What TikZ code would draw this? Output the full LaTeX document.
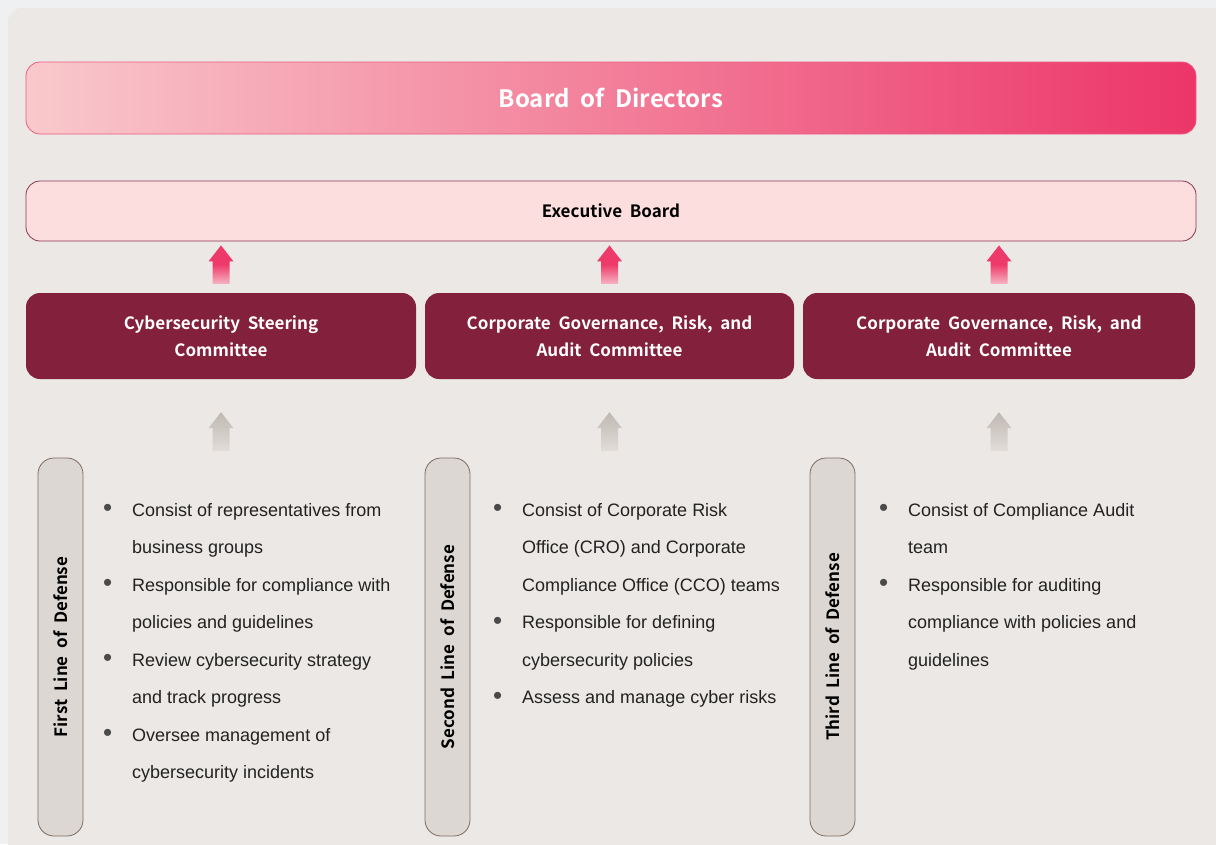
\documentclass[tikz,border=0pt]{standalone}
\usepackage{fontspec}
\setmainfont{Liberation Sans}
\newfontfamily\headfont{Noto Sans CJK KR}[BoldFont={Noto Sans CJK KR Bold}, WordSpace=2]
\usetikzlibrary{positioning, calc}

\definecolor{pagebg}{HTML}{EFF0F1}
\definecolor{panelbg}{HTML}{EBE8E5}
\definecolor{boardleft}{HTML}{F9C9CC}
\definecolor{boardright}{HTML}{EC3569}
\definecolor{boardline}{HTML}{EC5D82}
\definecolor{execfill}{HTML}{FBDEDD}
\definecolor{execline}{HTML}{8C3553}
\definecolor{maroon}{HTML}{83203B}
\definecolor{barfill}{HTML}{DCD7D3}
\definecolor{barline}{HTML}{7E6C61}
\definecolor{pinkup}{HTML}{EE3A6A}
\definecolor{pinkfade}{HTML}{F6B3C2}
\definecolor{greyup}{HTML}{BFB8B2}
\definecolor{greyfade}{HTML}{E2DDD9}
\definecolor{bulletgray}{HTML}{4A4A4A}
\definecolor{bodytext}{HTML}{222222}

\newcommand{\bl}{\makebox[29pt][l]{\textcolor{bulletgray}{\fontsize{26}{26}\selectfont\raisebox{-0.6pt}{\textbullet}}}}
\newcommand{\ind}{\hspace*{29pt}}
\newcommand{\liftarrow}[3]{%
  \path[#1] let \p1=(#2), \p2=(#3) in
    (\x1-8.5pt,\y1) -- (\x1-8.5pt,\y2-16pt) -- (\x1-12.5pt,\y2-16pt) -- (\x1,\y2)
    -- (\x1+12.5pt,\y2-16pt) -- (\x1+8.5pt,\y2-16pt) -- (\x1+8.5pt,\y1) -- cycle;}

\tikzset{
  boardbox/.style={rounded corners=14pt, draw=boardline, line width=0.8pt,
    left color=boardleft, right color=boardright, minimum width=1170pt,
    minimum height=72pt, text=white, font=\headfont\bfseries\fontsize{24}{28}\selectfont},
  execbox/.style={rounded corners=14pt, draw=execline, line width=0.8pt, fill=execfill,
    minimum width=1170pt, minimum height=60pt, text=black,
    font=\headfont\bfseries\fontsize{17}{20}\selectfont},
  committee/.style={rounded corners=14pt, fill=maroon, minimum height=86pt, text=white,
    align=center, font=\headfont\bfseries\fontsize{17}{27}\selectfont},
  linebar/.style={rotate=90, rounded corners=16pt, draw=barline, line width=0.8pt,
    fill=barfill, minimum width=378pt, minimum height=45pt, inner sep=0pt,
    font=\headfont\bfseries\fontsize{17}{20}\selectfont},
  bulletlist/.style={anchor=north west, align=left, inner sep=0pt, text=bodytext,
    font=\fontsize{18}{37.5}\selectfont},
  pinklift/.style={top color=pinkup, bottom color=pinkfade, middle color=pinkup},
  greylift/.style={top color=greyup, bottom color=greyfade}
}

\begin{document}
\begin{tikzpicture}[x=1pt, y=-1pt]
\useasboundingbox (0,0) rectangle (1216,844);
\fill[pagebg] (0,0) rectangle (1216,844);
\fill[panelbg, rounded corners=14pt] (8,8) rectangle (1240,870);

% governance levels
\node[boardbox] (board) at (611,98) {Board of Directors};
\node[execbox] (exec) at (611,211) {Executive Board};

\node[committee, minimum width=390pt] (csc) at (221,336) {Cybersecurity Steering\\Committee};
\node[committee, minimum width=369pt] (cgra) at (609.5,336) {Corporate Governance, Risk, and\\Audit Committee};
\node[committee, minimum width=392pt] (cgrb) at (999,336) {Corporate Governance, Risk, and\\Audit Committee};

% reporting arrows
\foreach \c in {csc, cgra, cgrb} {
  \coordinate (\c-up) at ($(\c.north)+(0,-9)$);
  \coordinate (\c-tip) at ($(exec.south -| \c.north)+(0,4)$);
  \coordinate (\c-low) at ($(\c.south)+(0,72)$);
  \coordinate (\c-in) at ($(\c.south)+(0,33)$);
  \liftarrow{pinklift}{\c-up}{\c-tip}
  \liftarrow{greylift}{\c-low}{\c-in}
}

% lines of defense
\node[linebar] (first) at (60.5,647) {First Line of Defense};
\node[linebar] (second) at (447.5,647) {Second Line of Defense};
\node[linebar] (third) at (832.5,647) {Third Line of Defense};

\node[bulletlist] (firstlist) at (103,503) {%
  \bl Consist of representatives from\\
  \ind business groups\\
  \bl Responsible for compliance with\\
  \ind policies and guidelines\\
  \bl Review cybersecurity strategy\\
  \ind and track progress\\
  \bl Oversee management of\\
  \ind cybersecurity incidents};
\node[bulletlist] (secondlist) at (493,503) {%
  \bl Consist of Corporate Risk\\
  \ind Office (CRO) and Corporate\\
  \ind Compliance Office (CCO) teams\\
  \bl Responsible for defining\\
  \ind cybersecurity policies\\
  \bl Assess and manage cyber risks};
\node[bulletlist] (thirdlist) at (879,503) {%
  \bl Consist of Compliance Audit\\
  \ind team\\
  \bl Responsible for auditing\\
  \ind compliance with policies and\\
  \ind guidelines};
\end{tikzpicture}
\end{document}
